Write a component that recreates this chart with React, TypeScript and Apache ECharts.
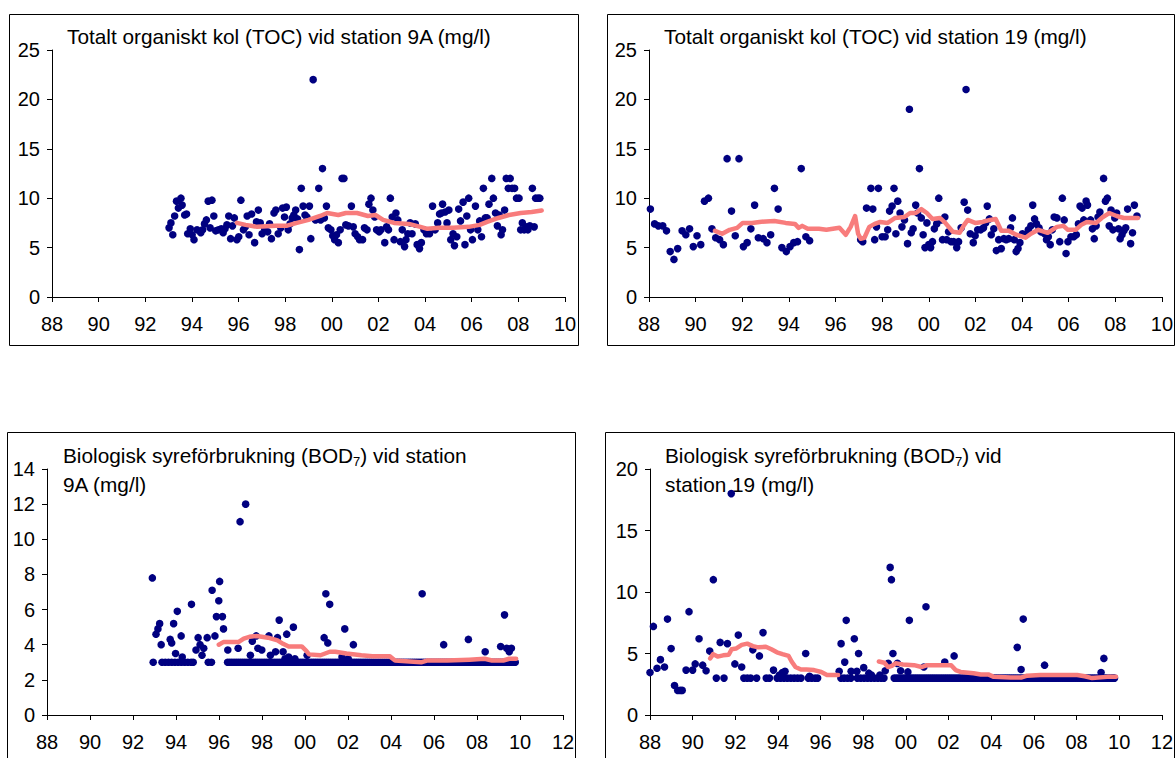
import React, { useEffect, useRef } from "react";
import * as echarts from "echarts";

const FONT = "'Liberation Sans', Arial, Helvetica, sans-serif";
const DOT = "#000080";
const LINE = "#F87C7C";
const FS = 20;
const TFS = 20.8;

// ---------- Titles ----------
const titleToc9a = "Totalt organiskt kol (TOC) vid station 9A (mg/l)";
const titleToc19 = "Totalt organiskt kol (TOC) vid station 19 (mg/l)";
const titleBod9a = ["Biologisk syreförbrukning (BOD", "7", ") vid station", "9A (mg/l)"];
const titleBod19 = ["Biologisk syreförbrukning (BOD", "7", ") vid", "station 19 (mg/l)"];

// ---------- Axis ranges ----------
const xMin = 1988;
const xMaxTop = 2010;
const xMaxBottom = 2012;
const xInterval = 2;
const yMaxToc = 25;
const yIntToc = 5;
const yMaxBod9a = 14;
const yIntBod9a = 2;
const yMaxBod19 = 20;
const yIntBod19 = 5;

// ---------- TOC station 9A ----------
const toc9aSamples: [number, number][] = [
  [1993.02, 7.0], [1993.10, 7.5], [1993.18, 6.3], [1993.26, 8.2], [1993.34, 9.7], [1993.42, 9.0], [1993.53, 10.0], [1993.58, 9.3],
  [1993.69, 8.3], [1993.77, 8.4], [1993.82, 6.4], [1993.93, 6.9], [1994.01, 6.3], [1994.09, 5.8], [1994.22, 6.8], [1994.38, 6.5],
  [1994.46, 6.8], [1994.54, 7.4], [1994.62, 7.8], [1994.70, 9.7], [1994.78, 7.0], [1994.86, 9.8], [1994.94, 8.2], [1995.02, 6.7],
  [1995.14, 6.8], [1995.26, 6.9], [1995.34, 6.5], [1995.42, 6.9], [1995.50, 7.3], [1995.58, 8.2], [1995.66, 5.9], [1995.74, 7.2],
  [1995.82, 8.0], [1995.93, 5.8], [1996.01, 6.1], [1996.10, 9.8], [1996.21, 6.8], [1996.29, 7.1], [1996.37, 8.2], [1996.45, 6.3],
  [1996.56, 8.4], [1996.69, 5.5], [1996.77, 7.6], [1996.85, 8.8], [1996.93, 7.5], [1997.01, 6.4], [1997.12, 6.9], [1997.25, 6.6],
  [1997.33, 7.4], [1997.41, 5.9], [1997.52, 8.5], [1997.60, 8.8], [1997.70, 6.4], [1997.81, 7.0], [1997.89, 9.0], [1997.97, 8.1],
  [1998.05, 9.1], [1998.13, 6.8], [1998.21, 7.4], [1998.30, 8.0], [1998.37, 8.3], [1998.45, 8.8], [1998.53, 7.9], [1998.61, 4.8],
  [1998.69, 11.0], [1998.77, 9.2], [1998.85, 8.3], [1998.93, 8.1], [1999.04, 9.2], [1999.10, 5.9], [1999.20, 22.0], [1999.30, 7.8],
  [1999.44, 11.0], [1999.52, 7.8], [1999.60, 13.0], [1999.68, 8.0], [1999.77, 9.2], [1999.85, 7.0], [1999.96, 6.8], [2000.04, 6.2],
  [2000.12, 5.8], [2000.20, 6.3], [2000.28, 5.5], [2000.36, 6.8], [2000.44, 12.0], [2000.52, 12.0], [2000.60, 7.3], [2000.71, 7.2],
  [2000.84, 9.2], [2000.92, 7.1], [2001.00, 6.4], [2001.11, 6.1], [2001.19, 5.8], [2001.32, 5.8], [2001.40, 7.0], [2001.51, 6.8],
  [2001.59, 9.4], [2001.68, 10.0], [2001.76, 8.8], [2001.84, 8.1], [2001.92, 6.8], [2002.03, 6.6], [2002.11, 6.8], [2002.27, 5.5],
  [2002.35, 7.1], [2002.43, 6.8], [2002.51, 10.0], [2002.59, 8.1], [2002.67, 5.8], [2002.75, 8.5], [2002.83, 7.8], [2002.94, 5.6],
  [2003.02, 6.8], [2003.12, 5.1], [2003.18, 5.8], [2003.26, 6.4], [2003.36, 7.5], [2003.44, 6.4], [2003.58, 7.4], [2003.66, 5.3],
  [2003.76, 4.9], [2003.84, 5.5], [2003.95, 6.8], [2004.06, 6.4], [2004.19, 6.4], [2004.32, 9.2], [2004.43, 6.8], [2004.54, 7.5],
  [2004.62, 8.4], [2004.70, 8.5], [2004.75, 9.4], [2004.86, 8.6], [2004.94, 7.5], [2005.02, 8.8], [2005.10, 5.8], [2005.20, 6.4],
  [2005.26, 5.2], [2005.36, 6.1], [2005.44, 8.9], [2005.52, 7.7], [2005.63, 9.6], [2005.71, 5.3], [2005.79, 8.2], [2005.87, 10.0],
  [2005.95, 6.8], [2006.03, 5.8], [2006.16, 9.2], [2006.26, 6.8], [2006.34, 7.7], [2006.42, 6.1], [2006.50, 11.0], [2006.58, 8.0],
  [2006.66, 8.0], [2006.74, 9.4], [2006.86, 12.0], [2006.93, 10.0], [2007.02, 8.5], [2007.10, 7.2], [2007.18, 8.3], [2007.26, 6.3],
  [2007.32, 6.8], [2007.41, 8.8], [2007.48, 12.0], [2007.57, 11.0], [2007.65, 12.0], [2007.73, 11.0], [2007.84, 11.0], [2007.92, 10.0],
  [2008.03, 10.0], [2008.10, 6.8], [2008.17, 7.5], [2008.25, 6.8], [2008.33, 7.1], [2008.41, 6.8], [2008.49, 7.2], [2008.60, 11.0],
  [2008.68, 7.1], [2008.74, 10.0], [2008.84, 10.0], [2008.92, 10.0],
];
const toc9aMean: [number, number][] = [
  [1995.93, 7.5], [1996.3, 7.3], [1996.8, 7.1], [1997.6, 7.2], [1998.05, 7.2], [1998.5, 7.5], [1999.0, 7.8], [1999.5, 8.2],
  [1999.8, 8.5], [2000.28, 8.3], [2000.6, 8.5], [2001.08, 8.5], [2001.55, 8.2], [2001.87, 8.3], [2002.2, 7.8], [2002.67, 7.5],
  [2003.3, 7.4], [2003.8, 7.1], [2004.1, 6.9], [2004.6, 7.0], [2005.2, 7.0], [2005.87, 7.1], [2006.34, 7.3], [2006.66, 7.6],
  [2007.14, 8.0], [2007.6, 8.3], [2008.1, 8.5], [2008.57, 8.6], [2009.0, 8.75],
];

// ---------- TOC station 19 ----------
const toc19Samples: [number, number][] = [
  [1988.06, 8.9], [1988.24, 7.4], [1988.40, 7.2], [1988.59, 7.2], [1988.75, 6.7], [1988.91, 4.6], [1989.07, 3.8], [1989.23, 4.9],
  [1989.42, 6.7], [1989.58, 6.3], [1989.74, 6.9], [1989.90, 5.1], [1990.06, 6.2], [1990.22, 5.3], [1990.38, 9.7], [1990.55, 10.0],
  [1990.70, 6.9], [1990.86, 6.0], [1991.03, 5.8], [1991.19, 5.3], [1991.35, 14.0], [1991.54, 8.7], [1991.70, 6.2], [1991.86, 14.0],
  [1992.05, 5.1], [1992.21, 5.5], [1992.37, 6.9], [1992.53, 9.3], [1992.69, 6.0], [1992.90, 5.9], [1993.06, 5.5], [1993.22, 6.3],
  [1993.38, 11.0], [1993.54, 8.9], [1993.70, 5.0], [1993.89, 4.6], [1994.05, 5.1], [1994.21, 5.5], [1994.37, 5.6], [1994.53, 13.0],
  [1994.73, 6.1], [1994.89, 5.7],
  [1997.08, 5.8], [1997.17, 5.6], [1997.33, 9.0], [1997.52, 11.0], [1997.60, 8.9], [1997.68, 5.8], [1997.76, 7.1], [1997.84, 11.0],
  [1998.00, 6.1], [1998.13, 6.1], [1998.24, 6.8], [1998.32, 8.7], [1998.43, 9.2], [1998.51, 11.0], [1998.59, 6.4], [1998.67, 9.7],
  [1998.77, 8.5], [1998.85, 7.1], [1998.96, 7.8], [1999.09, 5.4], [1999.17, 19.0], [1999.25, 6.5], [1999.33, 6.9], [1999.44, 9.3],
  [1999.52, 8.5], [1999.60, 13.0], [1999.68, 8.0], [1999.76, 6.3], [1999.84, 5.0], [1999.92, 7.5], [2000.00, 5.3], [2000.08, 5.0],
  [2000.16, 5.6], [2000.24, 6.9], [2000.34, 7.4], [2000.43, 10.0], [2000.53, 7.8], [2000.59, 5.8], [2000.69, 8.1], [2000.77, 5.8],
  [2000.85, 6.6], [2000.96, 5.6], [2001.07, 5.6], [2001.20, 5.0], [2001.28, 5.6], [2001.39, 7.0], [2001.52, 9.6], [2001.60, 21.0],
  [2001.67, 8.8], [2001.78, 6.4], [2001.91, 5.5], [2001.99, 6.2], [2002.10, 6.8], [2002.23, 6.8], [2002.35, 7.0], [2002.44, 7.5],
  [2002.51, 9.2], [2002.60, 7.9], [2002.68, 6.3], [2002.79, 6.9], [2002.90, 4.7], [2003.00, 5.8], [2003.11, 4.9], [2003.22, 5.9],
  [2003.32, 5.8], [2003.43, 5.9], [2003.51, 7.0], [2003.59, 8.0], [2003.67, 5.8], [2003.75, 4.6], [2003.83, 4.9], [2003.91, 5.5],
  [2004.02, 6.4], [2004.15, 6.3], [2004.27, 6.8], [2004.38, 7.2], [2004.46, 9.3], [2004.54, 7.9], [2004.62, 7.4], [2004.73, 7.0],
  [2004.81, 6.6], [2004.97, 6.4], [2005.05, 5.8], [2005.13, 6.1], [2005.21, 5.3], [2005.30, 6.8], [2005.38, 8.1], [2005.50, 8.0],
  [2005.62, 5.6], [2005.73, 10.0], [2005.81, 7.8], [2005.89, 4.4], [2005.97, 5.6], [2006.10, 6.1], [2006.22, 6.1], [2006.33, 6.3],
  [2006.42, 7.4], [2006.49, 9.2], [2006.58, 9.0], [2006.65, 7.8], [2006.75, 9.7], [2006.81, 9.3], [2006.94, 7.8], [2007.02, 6.9],
  [2007.10, 5.9], [2007.18, 7.2], [2007.26, 8.1], [2007.34, 8.6], [2007.50, 12.0], [2007.58, 9.7], [2007.66, 10.0], [2007.74, 7.2],
  [2007.82, 8.8], [2007.90, 6.8], [2007.98, 8.0], [2008.06, 8.5], [2008.14, 6.9], [2008.21, 5.9], [2008.29, 6.3], [2008.37, 6.7],
  [2008.45, 7.0], [2008.53, 8.9], [2008.66, 5.4], [2008.74, 6.5], [2008.82, 9.3], [2008.93, 8.2],
];
const toc19Mean: [number, number][] = [
  [1990.83, 6.7], [1991.14, 6.4], [1991.46, 6.8], [1991.78, 7.0], [1992.02, 7.5], [1992.42, 7.5], [1992.74, 7.6], [1993.38, 7.7],
  [1993.86, 7.5], [1994.26, 7.4], [1994.42, 7.0], [1994.57, 7.2], [1994.81, 6.9], [1995.29, 6.9], [1995.61, 6.8], [1996.17, 7.0],
  [1996.44, 6.3], [1996.65, 7.1], [1996.84, 8.2], [1996.97, 6.4], [1997.08, 5.9], [1997.24, 6.0], [1997.45, 7.1], [1997.68, 7.4],
  [1997.92, 7.6], [1998.24, 7.5], [1998.56, 8.0], [1998.96, 8.1], [1999.2, 8.5], [1999.44, 8.5], [1999.68, 8.9], [1999.92, 8.5],
  [2000.16, 7.9], [2000.48, 8.0], [2000.71, 7.5], [2001.03, 6.6], [2001.32, 6.5], [2001.52, 7.3], [2001.67, 7.8], [2001.99, 7.5],
  [2002.31, 7.6], [2002.63, 7.8], [2002.87, 7.9], [2003.11, 6.7], [2003.43, 6.7], [2003.75, 6.3], [2004.15, 6.0], [2004.38, 6.4],
  [2004.7, 6.8], [2005.1, 6.5], [2005.5, 7.1], [2005.78, 7.2], [2005.97, 6.8], [2006.3, 6.8], [2006.54, 7.3], [2006.78, 7.6],
  [2007.18, 7.5], [2007.42, 8.0], [2007.74, 8.5], [2008.06, 8.2], [2008.37, 8.0], [2008.69, 8.0], [2008.97, 8.0],
];

// ---------- BOD7 station 9A ----------
const bod9aSamples: [number, number][] = [
  [1992.90, 7.8], [1993.07, 4.6], [1993.16, 4.9], [1993.24, 5.2], [1993.31, 4.0], [1993.73, 4.3], [1993.80, 4.1], [1993.89, 5.2],
  [1993.98, 3.5], [1994.06, 5.9], [1994.24, 4.5], [1994.29, 3.3], [1994.72, 6.3], [1994.93, 3.7], [1995.03, 4.4], [1995.12, 4.0],
  [1995.21, 3.4], [1995.29, 3.8], [1995.45, 4.4], [1995.68, 7.1], [1995.81, 4.5], [1995.88, 5.6], [1995.99, 6.5], [1996.03, 7.6],
  [1996.16, 5.6], [1996.21, 4.9], [1996.41, 3.7], [1996.89, 3.8], [1996.98, 11.0], [1997.24, 12.0], [1997.46, 3.4], [1997.55, 4.2],
  [1997.73, 4.5], [1997.81, 3.8], [1997.99, 3.7], [1998.32, 4.5], [1998.39, 3.4], [1998.63, 3.6], [1998.72, 4.4], [1998.80, 5.4],
  [1998.98, 3.6], [1999.07, 3.2], [1999.15, 4.6], [1999.24, 3.3], [1999.46, 5.0], [1999.53, 3.2], [2000.10, 3.4], [2000.89, 4.4],
  [2000.97, 6.9], [2001.06, 4.1], [2001.15, 6.3], [2001.72, 3.3], [2001.85, 4.9], [2002.01, 3.2], [2002.25, 4.0], [2005.45, 6.9],
  [2006.45, 4.0], [2007.60, 4.3], [2008.38, 3.6], [2009.10, 3.9], [2009.28, 5.7], [2009.38, 3.8], [2009.50, 3.6], [2009.60, 3.8],
  // samples at the reporting limit (3 mg/l)
  [1992.94, 3], [1993.35, 3], [1993.50, 3], [1993.65, 3], [1993.80, 3], [1993.95, 3], [1994.10, 3], [1994.25, 3], [1994.40, 3],
  [1994.55, 3], [1994.70, 3], [1994.80, 3], [1995.50, 3], [1995.65, 3],
  [1996.40, 3], [1996.60, 3], [1996.80, 3], [1997.00, 3], [1997.20, 3], [1997.40, 3], [1997.60, 3], [1997.80, 3], [1998.00, 3],
  [1998.20, 3], [1998.40, 3], [1998.60, 3], [1998.80, 3], [1999.00, 3], [1999.20, 3], [1999.40, 3], [1999.60, 3], [1999.80, 3],
  [2000.00, 3], [2000.20, 3], [2000.40, 3], [2000.60, 3], [2000.80, 3], [2001.00, 3], [2001.20, 3], [2001.40, 3], [2001.60, 3],
  [2001.80, 3], [2002.00, 3], [2002.20, 3], [2002.40, 3], [2002.60, 3], [2002.80, 3], [2003.00, 3], [2003.20, 3], [2003.40, 3],
  [2003.60, 3], [2003.80, 3], [2004.00, 3], [2004.20, 3], [2004.40, 3], [2004.60, 3], [2004.80, 3], [2005.00, 3], [2005.20, 3],
  [2005.40, 3], [2005.60, 3], [2005.80, 3], [2006.00, 3], [2006.20, 3], [2006.40, 3], [2006.60, 3], [2006.80, 3], [2007.00, 3],
  [2007.20, 3], [2007.40, 3], [2007.60, 3], [2007.80, 3], [2008.00, 3], [2008.20, 3], [2008.40, 3], [2008.60, 3], [2008.80, 3],
  [2009.00, 3], [2009.20, 3], [2009.40, 3], [2009.60, 3], [2009.78, 3],
  [1996.50, 3], [1996.70, 3], [1996.90, 3], [1997.10, 3], [1997.30, 3], [1997.50, 3], [1997.70, 3], [1997.90, 3], [1998.10, 3],
  [1998.30, 3], [1998.50, 3], [1998.70, 3], [1998.90, 3], [1999.10, 3], [1999.30, 3], [1999.50, 3], [1999.70, 3], [1999.90, 3],
  [2000.10, 3], [2000.30, 3], [2000.50, 3], [2000.70, 3], [2000.90, 3], [2001.10, 3], [2001.30, 3], [2001.50, 3], [2001.70, 3],
  [2001.90, 3], [2002.10, 3], [2002.30, 3], [2002.50, 3], [2002.70, 3], [2002.90, 3], [2003.10, 3], [2003.30, 3], [2003.50, 3],
  [2003.70, 3], [2003.90, 3], [2004.10, 3], [2004.30, 3], [2004.50, 3], [2004.70, 3], [2004.90, 3], [2005.10, 3], [2005.30, 3],
  [2005.50, 3], [2005.70, 3], [2005.90, 3], [2006.10, 3], [2006.30, 3], [2006.50, 3], [2006.70, 3], [2006.90, 3], [2007.10, 3],
  [2007.30, 3], [2007.50, 3], [2007.70, 3], [2007.90, 3], [2008.10, 3], [2008.30, 3], [2008.50, 3], [2008.70, 3], [2008.90, 3],
  [2009.10, 3], [2009.30, 3], [2009.50, 3], [2009.70, 3],
];
const bod9aMean: [number, number][] = [
  [1995.99, 4.0], [1996.2, 4.15], [1996.9, 4.15], [1997.15, 4.35], [1997.41, 4.45], [1997.76, 4.5], [1998.28, 4.4], [1998.72, 4.25],
  [1998.98, 4.05], [1999.24, 3.9], [1999.85, 3.9], [2000.06, 3.65], [2000.19, 3.45], [2000.72, 3.4], [2001.15, 3.6], [2001.41, 3.6],
  [2001.93, 3.5], [2002.62, 3.4], [2003.14, 3.35], [2003.93, 3.35], [2004.19, 3.1], [2004.88, 3.05], [2005.4, 3.0], [2005.66, 3.1],
  [2006.61, 3.1], [2007.65, 3.15], [2008.35, 3.2], [2008.7, 3.1], [2009.22, 3.1], [2009.5, 3.2], [2009.82, 3.2],
];

// ---------- BOD7 station 19 ----------
const bod19Samples: [number, number][] = [
  [1988.00, 3.45], [1988.16, 7.2], [1988.33, 3.8], [1988.49, 4.5], [1988.68, 3.9], [1988.82, 7.8], [1988.99, 5.4], [1989.15, 2.4],
  [1989.30, 2.0], [1989.42, 2.0], [1989.51, 2.0], [1989.69, 3.65], [1989.83, 8.4], [1990.00, 3.65], [1990.12, 4.15], [1990.30, 6.2],
  [1990.47, 4.05], [1990.63, 3.6], [1990.80, 5.2], [1990.97, 11.0], [1991.29, 5.9], [1991.63, 5.8], [1991.81, 18.0], [1991.98, 4.15],
  [1992.14, 6.5], [1992.30, 3.9], [1992.82, 5.3], [1993.13, 4.8], [1993.30, 6.7], [1993.79, 3.65], [1994.07, 3.25], [1994.21, 3.45],
  [1994.33, 3.55], [1995.30, 5.0], [1995.48, 3.15], [1996.87, 3.55], [1996.96, 5.8], [1997.13, 4.3], [1997.20, 7.7], [1997.43, 3.55],
  [1997.58, 6.2], [1997.70, 3.55], [1997.78, 5.0], [1998.02, 3.85], [1998.26, 3.4], [1998.38, 3.25], [1998.78, 3.25], [1999.03, 3.6],
  [1999.17, 4.2], [1999.26, 12.0], [1999.32, 11.0], [1999.39, 5.0], [1999.60, 4.2], [1999.75, 3.6], [2000.09, 3.5], [2000.16, 7.7],
  [2000.84, 3.9], [2000.94, 8.8], [2001.82, 4.3], [2002.26, 4.8], [2005.22, 5.5], [2005.40, 3.7], [2005.50, 7.8], [2006.50, 4.05],
  [2009.15, 3.45], [2009.28, 4.6],
  // samples at the reporting limit (3 mg/l)
  [1991.11, 3], [1991.47, 3], [1992.40, 3], [1992.56, 3], [1992.72, 3], [1993.00, 3], [1993.45, 3], [1993.60, 3], [1993.96, 3],
  [1994.12, 3], [1994.28, 3], [1994.44, 3], [1994.60, 3], [1994.76, 3], [1994.92, 3], [1995.08, 3], [1995.42, 3], [1995.58, 3],
  [1995.74, 3], [1995.86, 3], [1996.95, 3], [1997.10, 3], [1997.26, 3], [1997.42, 3], [1997.72, 3], [1997.88, 3], [1998.04, 3],
  [1998.20, 3], [1998.36, 3], [1998.52, 3], [1998.68, 3], [1998.84, 3], [1998.97, 3],
  [1999.45, 3], [1999.65, 3], [1999.85, 3], [2000.05, 3], [2000.25, 3], [2000.45, 3], [2000.65, 3], [2000.85, 3], [2001.05, 3],
  [2001.25, 3], [2001.45, 3], [2001.65, 3], [2001.85, 3], [2002.05, 3], [2002.25, 3], [2002.45, 3], [2002.65, 3], [2002.85, 3],
  [2003.05, 3], [2003.25, 3], [2003.45, 3], [2003.65, 3], [2003.85, 3], [2004.05, 3], [2004.25, 3], [2004.45, 3], [2004.65, 3],
  [2004.85, 3], [2005.05, 3], [2005.25, 3], [2005.45, 3], [2005.65, 3], [2005.85, 3], [2006.05, 3], [2006.25, 3], [2006.45, 3],
  [2006.65, 3], [2006.85, 3], [2007.05, 3], [2007.25, 3], [2007.45, 3], [2007.65, 3], [2007.85, 3], [2008.05, 3], [2008.25, 3],
  [2008.45, 3], [2008.65, 3], [2008.85, 3], [2009.05, 3], [2009.25, 3], [2009.45, 3], [2009.65, 3], [2009.78, 3],
  [1999.55, 3], [1999.75, 3], [1999.95, 3], [2000.15, 3], [2000.35, 3], [2000.55, 3], [2000.75, 3], [2000.95, 3], [2001.15, 3],
  [2001.35, 3], [2001.55, 3], [2001.75, 3], [2001.95, 3], [2002.15, 3], [2002.35, 3], [2002.55, 3], [2002.75, 3], [2002.95, 3],
  [2003.15, 3], [2003.35, 3], [2003.55, 3], [2003.75, 3], [2003.95, 3], [2004.15, 3], [2004.35, 3], [2004.55, 3], [2004.75, 3],
  [2004.95, 3], [2005.15, 3], [2005.35, 3], [2005.55, 3], [2005.75, 3], [2005.95, 3], [2006.15, 3], [2006.35, 3], [2006.55, 3],
  [2006.75, 3], [2006.95, 3], [2007.15, 3], [2007.35, 3], [2007.55, 3], [2007.75, 3], [2007.95, 3], [2008.15, 3], [2008.35, 3],
  [2008.55, 3], [2008.75, 3], [2008.95, 3], [2009.15, 3], [2009.35, 3], [2009.55, 3], [2009.72, 3],
];
const bod19MeanEarly: [number, number][] = [
  [1990.82, 4.6], [1990.96, 4.95], [1991.17, 4.75], [1991.43, 4.85], [1991.69, 4.9], [1991.83, 5.35], [1992.03, 5.4], [1992.3, 5.7],
  [1992.56, 5.8], [1992.82, 5.6], [1993.08, 5.5], [1993.43, 5.55], [1993.69, 5.35], [1993.95, 5.1], [1994.21, 4.95], [1994.5, 4.8],
  [1994.64, 4.35], [1994.82, 3.9], [1995.08, 3.7], [1995.34, 3.7], [1995.69, 3.65], [1996.03, 3.5], [1996.3, 3.25], [1996.64, 3.25],
  [1996.82, 3.25],
];
const bod19MeanLate: [number, number][] = [
  [1998.73, 4.35], [1998.99, 4.25], [1999.16, 3.9], [1999.34, 4.0], [1999.51, 4.2], [1999.86, 4.1], [2000.38, 4.05], [2000.73, 3.9],
  [2000.99, 4.05], [2001.6, 4.05], [2002.12, 4.05], [2002.33, 3.65], [2002.56, 3.5], [2003.17, 3.4], [2003.51, 3.3], [2003.86, 3.3],
  [2004.12, 3.1], [2004.9, 3.05], [2005.43, 3.05], [2005.68, 3.2], [2006.29, 3.25], [2007.16, 3.25], [2008.03, 3.25], [2008.38, 3.15],
  [2008.73, 3.0], [2009.43, 3.1], [2009.85, 3.1],
];

const yearLabel = (v: number) => String(Math.round(v) % 100).padStart(2, "0");

function makeX(gridIndex: number, max: number) {
  return {
    type: "value", gridIndex, min: xMin, max, interval: xInterval,
    axisLine: { show: true, onZero: false, lineStyle: { color: "#000", width: 1 } },
    axisTick: { show: true, length: 5, lineStyle: { color: "#000", width: 1 } },
    axisLabel: { margin: 17, color: "#000", fontSize: FS, fontFamily: FONT, formatter: yearLabel },
    splitLine: { show: false },
  };
}
function makeY(gridIndex: number, max: number, interval: number) {
  return {
    type: "value", gridIndex, min: 0, max, interval,
    axisLine: { show: true, onZero: false, lineStyle: { color: "#000", width: 1 } },
    axisTick: { show: true, length: 5, lineStyle: { color: "#000", width: 1 } },
    axisLabel: { margin: 12, color: "#000", fontSize: FS, fontFamily: FONT },
    splitLine: { show: false },
  };
}
function scatter(i: number, data: [number, number][]) {
  return {
    type: "scatter", xAxisIndex: i, yAxisIndex: i, data, symbol: "circle", symbolSize: 7.6,
    itemStyle: { color: DOT, opacity: 1 }, silent: true, z: 2,
  };
}
function meanLine(i: number, data: [number, number][]) {
  return {
    type: "line", xAxisIndex: i, yAxisIndex: i, data, showSymbol: false, symbol: "none",
    lineStyle: { color: LINE, width: 4.5, cap: "round", join: "round" }, silent: true, z: 3,
  };
}

const frame = (x: number, y: number, w: number, h: number) => ({
  type: "rect", shape: { x, y, width: w, height: h },
  style: { fill: "none", stroke: "#000", lineWidth: 1 }, silent: true,
});
const plainText = (x: number, y: number, text: string) => ({
  type: "text", x, y,
  style: { text, fontSize: TFS, fontFamily: FONT, fill: "#000", verticalAlign: "middle", align: "left" },
  silent: true,
});
const subText = (x: number, y: number, parts: string[]) => ({
  type: "text", x, y,
  style: {
    text: `{a|${parts[0]}}{s|${parts[1]}}{a|${parts[2]}}`,
    fontSize: TFS, fontFamily: FONT, fill: "#000", verticalAlign: "middle", align: "left",
    rich: {
      a: { fontSize: TFS, fontFamily: FONT, fill: "#000", color: "#000" },
      s: { fontSize: 13, fontFamily: FONT, fill: "#000", color: "#000", padding: [12, 0, 0, 0] },
    },
  },
  silent: true,
});

export default function App() {
  const ref = useRef<HTMLDivElement>(null);
  useEffect(() => {
    if (!ref.current) return;
    const chart = echarts.init(ref.current, undefined, { renderer: "svg" });
    chart.setOption({
      animation: false,
      backgroundColor: "#fff",
      textStyle: { fontFamily: FONT },
      grid: [
        { left: 52, top: 50, width: 513, height: 247 },
        { left: 649, top: 50, width: 513, height: 247 },
        { left: 47, top: 469, width: 516, height: 246 },
        { left: 650, top: 469, width: 514, height: 246 },
      ],
      xAxis: [makeX(0, xMaxTop), makeX(1, xMaxTop), makeX(2, xMaxBottom), makeX(3, xMaxBottom)],
      yAxis: [
        makeY(0, yMaxToc, yIntToc),
        makeY(1, yMaxToc, yIntToc),
        makeY(2, yMaxBod9a, yIntBod9a),
        makeY(3, yMaxBod19, yIntBod19),
      ],
      series: [
        scatter(0, toc9aSamples), meanLine(0, toc9aMean),
        scatter(1, toc19Samples), meanLine(1, toc19Mean),
        scatter(2, bod9aSamples), meanLine(2, bod9aMean),
        scatter(3, bod19Samples), meanLine(3, bod19MeanEarly), meanLine(3, bod19MeanLate),
      ],
      graphic: [
        frame(9.5, 14.5, 569, 331),
        frame(607.5, 14.5, 567, 331),
        frame(7.5, 432.5, 568, 400),
        frame(605.5, 432.5, 569, 400),
        plainText(67, 36, titleToc9a),
        plainText(664, 36, titleToc19),
        subText(63, 455, titleBod9a),
        plainText(63, 484, titleBod9a[3]),
        subText(665, 455, titleBod19),
        plainText(665, 484, titleBod19[3]),
      ],
    });
    return () => chart.dispose();
  }, []);
  return <div ref={ref} style={{ position: "fixed", left: 0, top: 0, width: 1176, height: 758 }} />;
}
